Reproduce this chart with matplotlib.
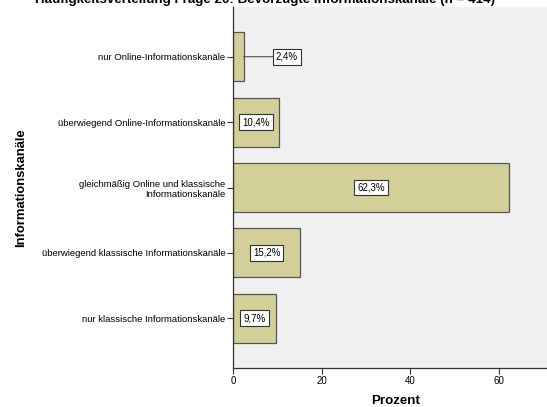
import numpy as np
import matplotlib.pyplot as plt

plt.rcParams['font.family'] = ['Liberation Sans', 'DejaVu Sans']

# Daten aus der Abbildung (Frage 20)
kategorien = [
    'nur Online-Informationskanäle',
    'überwiegend Online-Informationskanäle',
    'gleichmäßig Online und klassische\nInformationskanäle',
    'überwiegend klassische Informationskanäle',
    'nur klassische Informationskanäle',
]
prozent = [2.4, 10.4, 62.3, 15.2, 9.7]
beschriftungen = ['2,4%', '10,4%', '62,3%', '15,2%', '9,7%']
x_ticks = [0, 20, 40, 60]

fig = plt.figure(figsize=(5.47, 4.07), dpi=100)
ax = fig.add_axes([233 / 547, 1 - 368 / 407, 322 / 547, 361 / 407])
ax.set_facecolor('#f0f0f0')

y = np.arange(len(kategorien))
ax.barh(y, prozent, height=0.75, color='#d3cf98', edgecolor='#555555', linewidth=0.9, zorder=2)

box = dict(boxstyle='square,pad=0.3', facecolor='white', edgecolor='#333333', linewidth=0.8)
for yi, wert, txt in zip(y, prozent, beschriftungen):
    if wert < 5:
        # kleiner Balken: Beschriftung daneben mit Linie
        ax.annotate(txt, xy=(wert, yi), xytext=(9.7, yi), ha='left', va='center',
                    fontsize=7, bbox=box, zorder=3,
                    arrowprops=dict(arrowstyle='-', color='#555555', lw=0.8, shrinkA=0, shrinkB=0))
    else:
        ax.text(wert / 2, yi, txt, ha='center', va='center', fontsize=7, bbox=box, zorder=3)

ax.set_ylim(len(kategorien) - 1 + 0.76, -0.76)
ax.set_xlim(0, 72.7)
ax.set_yticks(y)
ax.set_yticklabels(kategorien, fontsize=6.8, ha='right', multialignment='right')
ax.set_xticks(x_ticks)
ax.set_xticklabels([str(t) for t in x_ticks], fontsize=7)
ax.tick_params(axis='both', direction='out', length=4, width=0.8, color='#333333', pad=1.5)

for s in ['top', 'right']:
    ax.spines[s].set_visible(False)
for s in ['left', 'bottom']:
    ax.spines[s].set_color('#333333')
    ax.spines[s].set_linewidth(0.9)

fig.text(396 / 547, 1 - 401 / 407, 'Prozent', ha='center', va='center',
         fontsize=9.6, fontweight='bold')
fig.text(21 / 547, 1 - 188 / 407, 'Informationskanäle', ha='center', va='center',
         rotation=90, fontsize=9.4, fontweight='bold')
fig.text(265 / 547, 1 - 3.5 / 407, 'Häufigkeitsverteilung Frage 20: Bevorzugte Informationskanäle (n = 414)',
         ha='center', va='baseline', fontsize=9.6, fontweight='bold')

fig.savefig('out.png', dpi=100)
